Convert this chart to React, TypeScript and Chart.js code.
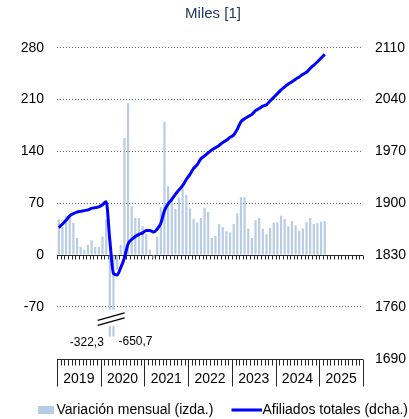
import React, { useEffect, useRef } from 'react';
import { Chart, registerables } from 'chart.js';

Chart.register(...registerables);

const YEARS = ['2019', '2020', '2021', '2022', '2023', '2024', '2025'];
const MONTHS = ['01', '02', '03', '04', '05', '06', '07', '08', '09', '10', '11', '12'];
const CATEGORIES = YEARS.flatMap((y) => MONTHS.map((m) => `${y}-${m}`));

// Variación mensual (izda.), miles
const VARIACION = [
  48, 38, 53, 55, 43.5, 23, 11, 7, 14, 20, 11, 11,
  25, 48, -322.3, -650.7, -20, 13.5, 158, 205, 66, 50, 50, 39,
  28, 7.6, -4.5, 24.7, 65, 180, 93, 78.5, 62, 77, 90, 81,
  63, 48.5, 44, 50, 64, 58, 23, 25.6, 42, 38, 32, 30.5,
  42, 56, 78, 78, 36, 23, 47, 50, 35.5, 28, 37, 44,
  44.4, 53, 48.5, 39, 46, 40, 33, 36, 44.4, 50, 42, 43,
  45, 46,
];

// Afiliados totales (dcha.), miles
const AFILIADOS = [
  1867, 1872, 1877, 1883, 1886, 1888, 1889, 1890, 1891, 1893, 1894, 1895,
  1898, 1902, 1850, 1805, 1803, 1813, 1826, 1845, 1851, 1855, 1858, 1860,
  1863, 1863, 1861, 1865, 1873, 1890, 1899, 1905, 1912, 1918, 1924, 1932,
  1939, 1947, 1952, 1960, 1964, 1968, 1972, 1975, 1978, 1982, 1985, 1989,
  1992, 2000, 2010, 2014, 2017, 2020, 2025, 2028, 2031, 2033, 2038, 2043,
  2048, 2053, 2057, 2061, 2064, 2067.5, 2070.5, 2074, 2077, 2082, 2086.5, 2091,
  2096, 2101,
];

const LEFT_TICKS = [-140, -70, 0, 70, 140, 210, 280];
const RIGHT_TICKS = [1690, 1760, 1830, 1900, 1970, 2040, 2110];
const BAR_CLIP = -110;
const BREAK_TOP = -74;
const BREAK_BOTTOM = -96;

const TITLE = 'Miles [1]';
const LEGEND_BAR = 'Variación mensual (izda.)';
const LEGEND_LINE = 'Afiliados totales (dcha.)';

const FONT = '"Liberation Sans", Arial, Helvetica, sans-serif';
const BAR_COLOR = '#B8CCE4';
const LINE_COLOR = '#0000FF';
const AXIS_COLOR = '#262626';
const GRID_COLOR = '#666666';
const TITLE_COLOR = '#1F3864';

const fmt = (v: number) => v.toFixed(1).replace('.', ',');

const decorPlugin = {
  id: 'decor',
  beforeDatasetsDraw(chart: any) {
    const { ctx, chartArea, scales } = chart;
    const x = scales.x;
    const y = scales.y;
    const n = CATEGORIES.length;
    const w = (x.right - x.left) / n;
    const y0 = Math.round(y.getPixelForValue(0)) + 0.5;
    ctx.save();
    ctx.strokeStyle = AXIS_COLOR;
    ctx.lineWidth = 1;
    ctx.beginPath();
    ctx.moveTo(chartArea.left, y0);
    ctx.lineTo(chartArea.right, y0);
    for (let i = 0; i <= n; i++) {
      const px = Math.round(x.left + i * w) + 0.5;
      ctx.moveTo(px, y0);
      ctx.lineTo(px, y0 + 4);
    }
    ctx.stroke();
    ctx.restore();
  },
  afterDatasetsDraw(chart: any) {
    const { ctx, scales } = chart;
    const y = scales.y;
    const meta = chart.getDatasetMeta(1);
    const clipped = VARIACION.map((v, i) => (v < BAR_CLIP ? i : -1)).filter((i) => i >= 0);
    if (!clipped.length) return;
    const yTop = y.getPixelForValue(BREAK_TOP);
    const yBot = y.getPixelForValue(BREAK_BOTTOM);
    ctx.save();
    ctx.fillStyle = '#ffffff';
    let sx = 0;
    clipped.forEach((i) => {
      const el = meta.data[i];
      sx += el.x;
      ctx.fillRect(el.x - el.width / 2 - 1, yTop, el.width + 2, yBot - yTop);
    });
    const cx = sx / clipped.length;
    const cy = (yTop + yBot) / 2;
    ctx.strokeStyle = '#000000';
    ctx.lineWidth = 1.3;
    ctx.beginPath();
    ctx.moveTo(cx - 14, cy + 2.5);
    ctx.lineTo(cx + 13, cy - 5);
    ctx.moveTo(cx - 14, cy + 7.5);
    ctx.lineTo(cx + 13, cy);
    ctx.stroke();

    ctx.fillStyle = '#000000';
    ctx.font = `12px ${FONT}`;
    ctx.textBaseline = 'middle';
    const ly = y.getPixelForValue(BAR_CLIP) + 6.5;
    clipped.forEach((i, k) => {
      const el = meta.data[i];
      if (k === 0) {
        ctx.textAlign = 'right';
        ctx.fillText(fmt(VARIACION[i]), el.x - 6, ly);
      } else {
        ctx.textAlign = 'left';
        ctx.fillText(fmt(VARIACION[i]), el.x + 5, ly - 1);
      }
    });
    ctx.restore();
  },
  afterDraw(chart: any) {
    const { ctx, chartArea, scales } = chart;
    const x = scales.x;
    const n = CATEGORIES.length;
    const w = (x.right - x.left) / n;
    ctx.save();
    // monthly ticks and year separators on the bottom axis
    ctx.strokeStyle = AXIS_COLOR;
    ctx.lineWidth = 1;
    ctx.beginPath();
    const yb = Math.round(chartArea.bottom) + 0.5;
    ctx.moveTo(chartArea.left, yb);
    ctx.lineTo(chartArea.right, yb);
    for (let i = 0; i <= n; i++) {
      const px = Math.round(x.left + i * w) + 0.5;
      ctx.moveTo(px, yb);
      ctx.lineTo(px, yb + (i % 12 === 0 ? 27 : 6));
    }
    ctx.stroke();

    // title
    ctx.fillStyle = TITLE_COLOR;
    ctx.font = `15px ${FONT}`;
    ctx.textAlign = 'center';
    ctx.textBaseline = 'middle';
    ctx.fillText(TITLE, 213, 14);

    // legend
    ctx.fillStyle = BAR_COLOR;
    ctx.fillRect(38, 406, 16, 8);
    ctx.fillStyle = '#000000';
    ctx.font = `14px ${FONT}`;
    ctx.textAlign = 'left';
    ctx.fillText(LEGEND_BAR, 56.5, 410.5);
    ctx.strokeStyle = LINE_COLOR;
    ctx.lineWidth = 3;
    ctx.beginPath();
    ctx.moveTo(231.5, 410);
    ctx.lineTo(262, 410);
    ctx.stroke();
    ctx.fillText(LEGEND_LINE, 262.5, 410.5);
    ctx.restore();
  },
};

export default function App() {
  const ref = useRef<HTMLCanvasElement | null>(null);

  useEffect(() => {
    if (!ref.current) return;
    const monthW = 306 / CATEGORIES.length;
    const chart = new Chart(ref.current, {
      type: 'bar',
      data: {
        labels: CATEGORIES,
        datasets: [
          {
            type: 'line',
            label: LEGEND_LINE,
            data: AFILIADOS,
            yAxisID: 'y1',
            borderColor: LINE_COLOR,
            backgroundColor: LINE_COLOR,
            borderWidth: 3,
            pointRadius: 0,
            cubicInterpolationMode: 'monotone',
            fill: false,
          } as any,
          {
            type: 'bar',
            label: LEGEND_BAR,
            data: VARIACION.map((v) => Math.max(v, BAR_CLIP)),
            yAxisID: 'y',
            backgroundColor: BAR_COLOR,
            borderWidth: 0,
            barPercentage: 0.6,
            categoryPercentage: 1,
          } as any,
        ],
      },
      options: {
        responsive: false,
        animation: false,
        events: [],
        layout: { padding: { top: 47.7, bottom: 30, left: 0, right: 0 } },
        plugins: {
          legend: { display: false },
          title: { display: false },
          tooltip: { enabled: false },
        },
        scales: {
          x: {
            type: 'category',
            offset: true,
            grid: {
              offset: true,
              drawOnChartArea: false,
              drawTicks: true,
              tickLength: 6,
              color: 'rgba(0,0,0,0)',
              lineWidth: 1,
            },
            border: { display: false },
            ticks: {
              autoSkip: false,
              maxRotation: 0,
              minRotation: 0,
              padding: 6,
              labelOffset: -monthW / 2,
              color: '#000000',
              font: { family: FONT, size: 14 },
              callback: (_v: any, i: number) => (i % 12 === 6 ? YEARS[Math.floor(i / 12)] : ''),
            },
            afterFit: (s: any) => {
              s.height = 419 - 30 - 358.7;
            },
          },
          y: {
            type: 'linear',
            position: 'left',
            min: LEFT_TICKS[0],
            max: LEFT_TICKS[LEFT_TICKS.length - 1],
            ticks: {
              stepSize: 70,
              padding: 13,
              color: '#000000',
              font: { family: FONT, size: 14 },
              callback: (v: any) => (v === LEFT_TICKS[0] ? '' : String(v)),
            },
            grid: {
              drawTicks: false,
              lineWidth: 1,
              color: (c: any) =>
                c.tick && (c.tick.value === LEFT_TICKS[0] || c.tick.value === 0) ? 'rgba(0,0,0,0)' : GRID_COLOR,
            },
            border: { display: false, dash: [1, 2] },
            afterFit: (s: any) => {
              s.width = 57;
            },
          },
          y1: {
            type: 'linear',
            position: 'right',
            min: RIGHT_TICKS[0],
            max: RIGHT_TICKS[RIGHT_TICKS.length - 1],
            ticks: {
              stepSize: 70,
              padding: 12,
              color: '#000000',
              font: { family: FONT, size: 14 },
              callback: (v: any) => String(v),
            },
            grid: { drawOnChartArea: false, drawTicks: false },
            border: { display: false },
            afterFit: (s: any) => {
              s.width = 46;
            },
          },
        },
      },
      plugins: [decorPlugin],
    });
    return () => chart.destroy();
  }, []);

  return (
    <div style={{ position: 'fixed', left: 0, top: 0, width: 409, height: 419, background: '#ffffff' }}>
      <canvas ref={ref} width={409} height={419} style={{ display: 'block' }} />
    </div>
  );
}
